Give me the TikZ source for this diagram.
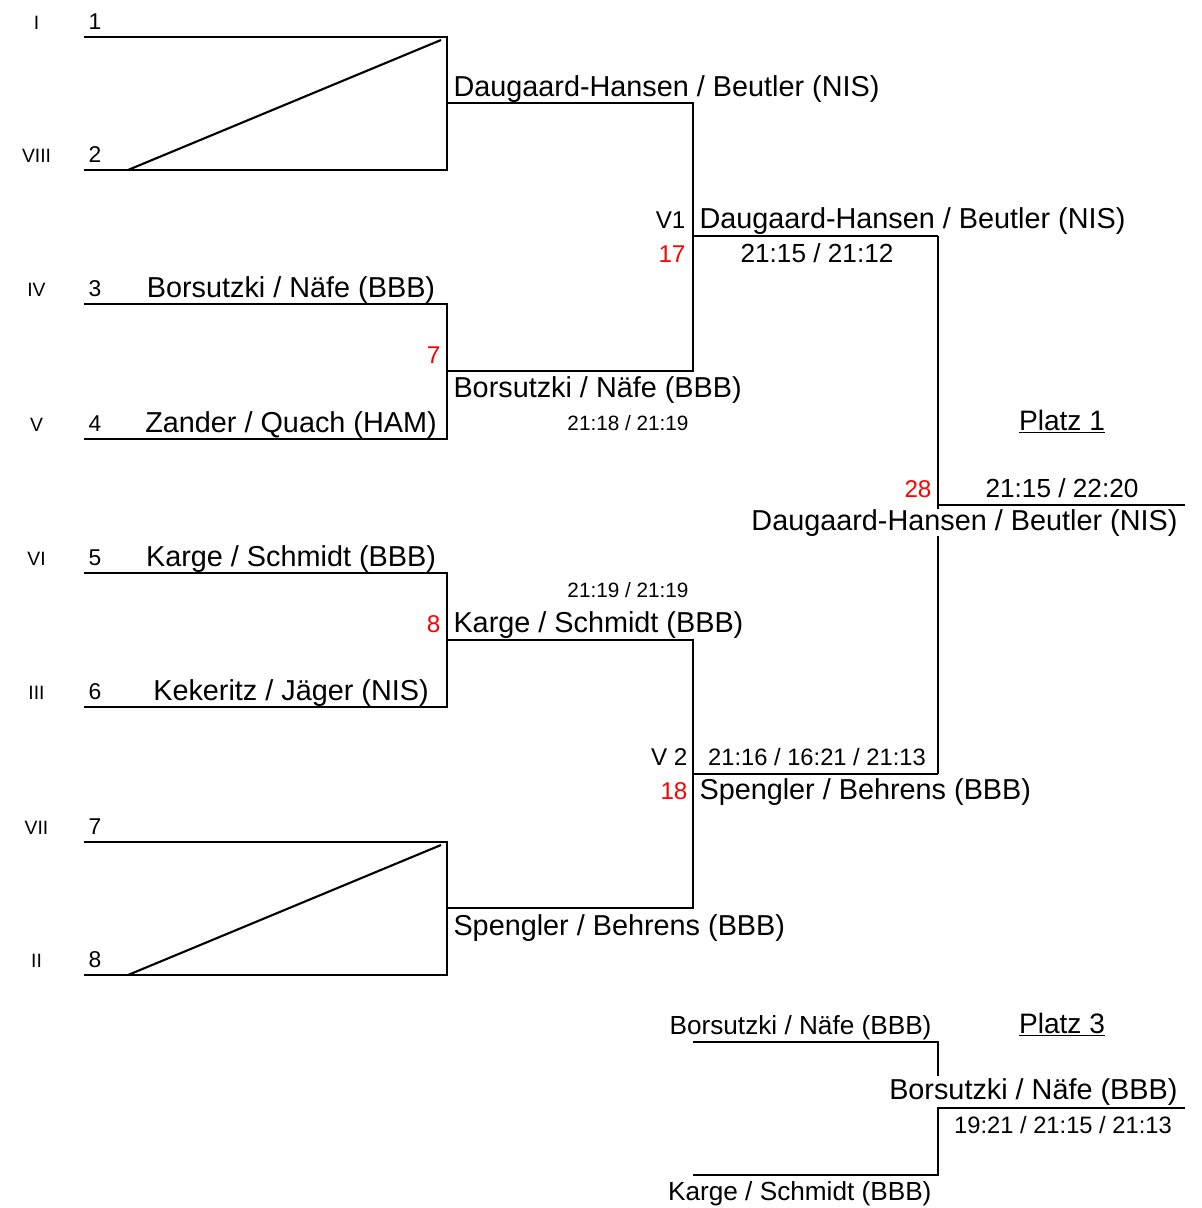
\documentclass[tikz,border=0pt]{standalone}
\usepackage{fontspec}
\setmainfont{Liberation Sans}
\usepackage{tikz}
\usetikzlibrary{calc}
\definecolor{seedred}{RGB}{255,0,0}

\begin{document}
\begin{tikzpicture}[x=0.02cm, y=-0.02cm, line width=0.6pt,
    team/.style={inner sep=0pt, font=\fontsize{16.4}{18}\selectfont},
    smallteam/.style={inner sep=0pt, font=\fontsize{14.9}{17}\selectfont},
    result/.style={inner sep=0pt, font=\fontsize{14.9}{17}\selectfont},
    resultlong/.style={inner sep=0pt, font=\fontsize{13.5}{16}\selectfont},
    resultsmall/.style={inner sep=0pt, font=\fontsize{11.8}{14}\selectfont},
    seed/.style={inner sep=0pt, font=\fontsize{13.8}{16}\selectfont, text=seedred},
    match/.style={inner sep=0pt, font=\fontsize{13.8}{16}\selectfont},
    rank/.style={inner sep=0pt, font=\fontsize{11}{13}\selectfont},
    slot/.style={inner sep=0pt, font=\fontsize{13}{15}\selectfont},
    place/.style={inner sep=0pt, font=\fontsize{16}{18}\selectfont},
    bye/.style={line width=1.2pt}]

    \useasboundingbox (0,0) rectangle (1202,1208);

    % First round slots
    \foreach \n/\rk/\y in {1/I/37, 2/VIII/170, 3/IV/304, 4/V/439, 5/VI/573, 6/III/707, 7/VII/842, 8/II/975} {
        \coordinate (s\n) at (84,\y);
        \coordinate (e\n) at (447,\y);
        \node[rank, anchor=base] (rk\n) at (36.5,\y-8) {\rk};
        \node[slot, anchor=base] (nr\n) at (95,\y-8) {\n};
    }

    % First round brackets
    \draw (s1) -- (e1) -- (e2) -- (s2);
    \draw (s3) -- (e3) -- (e4) -- (s4);
    \draw (s5) -- (e5) -- (e6) -- (s6);
    \draw (s7) -- (e7) -- (e8) -- (s8);

    % Byes
    \coordinate (bya) at (128,170);
    \coordinate (byb) at (441,40);
    \coordinate (byc) at (128,975);
    \coordinate (byd) at (441,845);
    \draw[bye] (bya) -- (byb);
    \draw[bye] (byc) -- (byd);

    % Teams of the first round
    \node[team, anchor=base] (t3) at (291,297) {Borsutzki / Näfe (BBB)};
    \node[team, anchor=base] (t4) at (291,432) {Zander / Quach (HAM)};
    \node[team, anchor=base] (t5) at (291,566) {Karge / Schmidt (BBB)};
    \node[team, anchor=base] (t6) at (291,700) {Kekeritz / Jäger (NIS)};

    % Second round
    \coordinate (qa) at (447,103);  \coordinate (ra) at (693,103);
    \coordinate (qb) at (447,371);  \coordinate (rb) at (693,371);
    \coordinate (qc) at (447,640);  \coordinate (rc) at (693,640);
    \coordinate (qd) at (447,908);  \coordinate (rd) at (693,908);
    \draw (qa) -- (ra) -- (rb) -- (qb);
    \draw (qc) -- (rc) -- (rd) -- (qd);

    \node[team, anchor=base west] (wa) at (453,96) {Daugaard-Hansen / Beutler (NIS)};
    \node[seed, anchor=base east] (g7) at (441,363) {7};
    \node[team, anchor=base west] (wb) at (453,397) {Borsutzki / Näfe (BBB)};
    \node[resultsmall, anchor=base] (sb) at (628,430) {21:18 / 21:19};
    \node[resultsmall, anchor=base] (sc) at (628,597) {21:19 / 21:19};
    \node[seed, anchor=base east] (g8) at (441,632) {8};
    \node[team, anchor=base west] (wc) at (453,632) {Karge / Schmidt (BBB)};
    \node[team, anchor=base west] (wd) at (453,935) {Spengler / Behrens (BBB)};

    % Semifinals
    \coordinate (v1) at (693,236);  \coordinate (f1) at (938,236);
    \coordinate (v2) at (693,774);  \coordinate (f2) at (938,774);
    \draw (v1) -- (f1);
    \draw (v2) -- (f2);

    \node[match, anchor=base east] (m1) at (686,228) {V1};
    \node[seed, anchor=base east] (g17) at (686,262) {17};
    \node[team, anchor=base west] (w1) at (699,228) {Daugaard-Hansen / Beutler (NIS)};
    \node[result, anchor=base] (r1) at (817,262) {21:15 / 21:12};

    \node[match, anchor=base east] (m2) at (688,765) {V 2};
    \node[seed, anchor=base east] (g18) at (688,799) {18};
    \node[resultlong, anchor=base] (r2) at (817,765) {21:16 / 16:21 / 21:13};
    \node[team, anchor=base west] (w2) at (699,799) {Spengler / Behrens (BBB)};

    % Final
    \coordinate (fw) at (938,505);
    \coordinate (fe) at (1185,505);
    \draw (f1) -- (f2);
    \draw (fw) -- (fe);
    \node[place, anchor=base] (p1) at (1062,430) {\underline{Platz 1}};
    \node[seed, anchor=base east] (g28) at (932,497) {28};
    \node[result, anchor=base] (rf) at (1062,497) {21:15 / 22:20};
    \node[team, anchor=base east, fill=white] (champ) at (1178,530) {Daugaard-Hansen / Beutler (NIS)};

    % Match for third place
    \coordinate (ta) at (693,1042);  \coordinate (tb) at (938,1042);
    \coordinate (tc) at (693,1175);  \coordinate (td) at (938,1175);
    \coordinate (tw) at (938,1108);  \coordinate (te) at (1185,1108);
    \draw (ta) -- (tb) -- (td) -- (tc);
    \draw (tw) -- (te);
    \node[place, anchor=base] (p3) at (1062,1033) {\underline{Platz 3}};
    \node[smallteam, anchor=base east] (ua) at (932,1034) {Borsutzki / Näfe (BBB)};
    \node[smallteam, anchor=base east] (ub) at (932,1200) {Karge / Schmidt (BBB)};
    \node[team, anchor=base east, fill=white, inner ysep=1pt] (third) at (1178,1099) {Borsutzki / Näfe (BBB)};
    \node[resultlong, anchor=base] (rt) at (1063,1133) {19:21 / 21:15 / 21:13};
\end{tikzpicture}
\end{document}
